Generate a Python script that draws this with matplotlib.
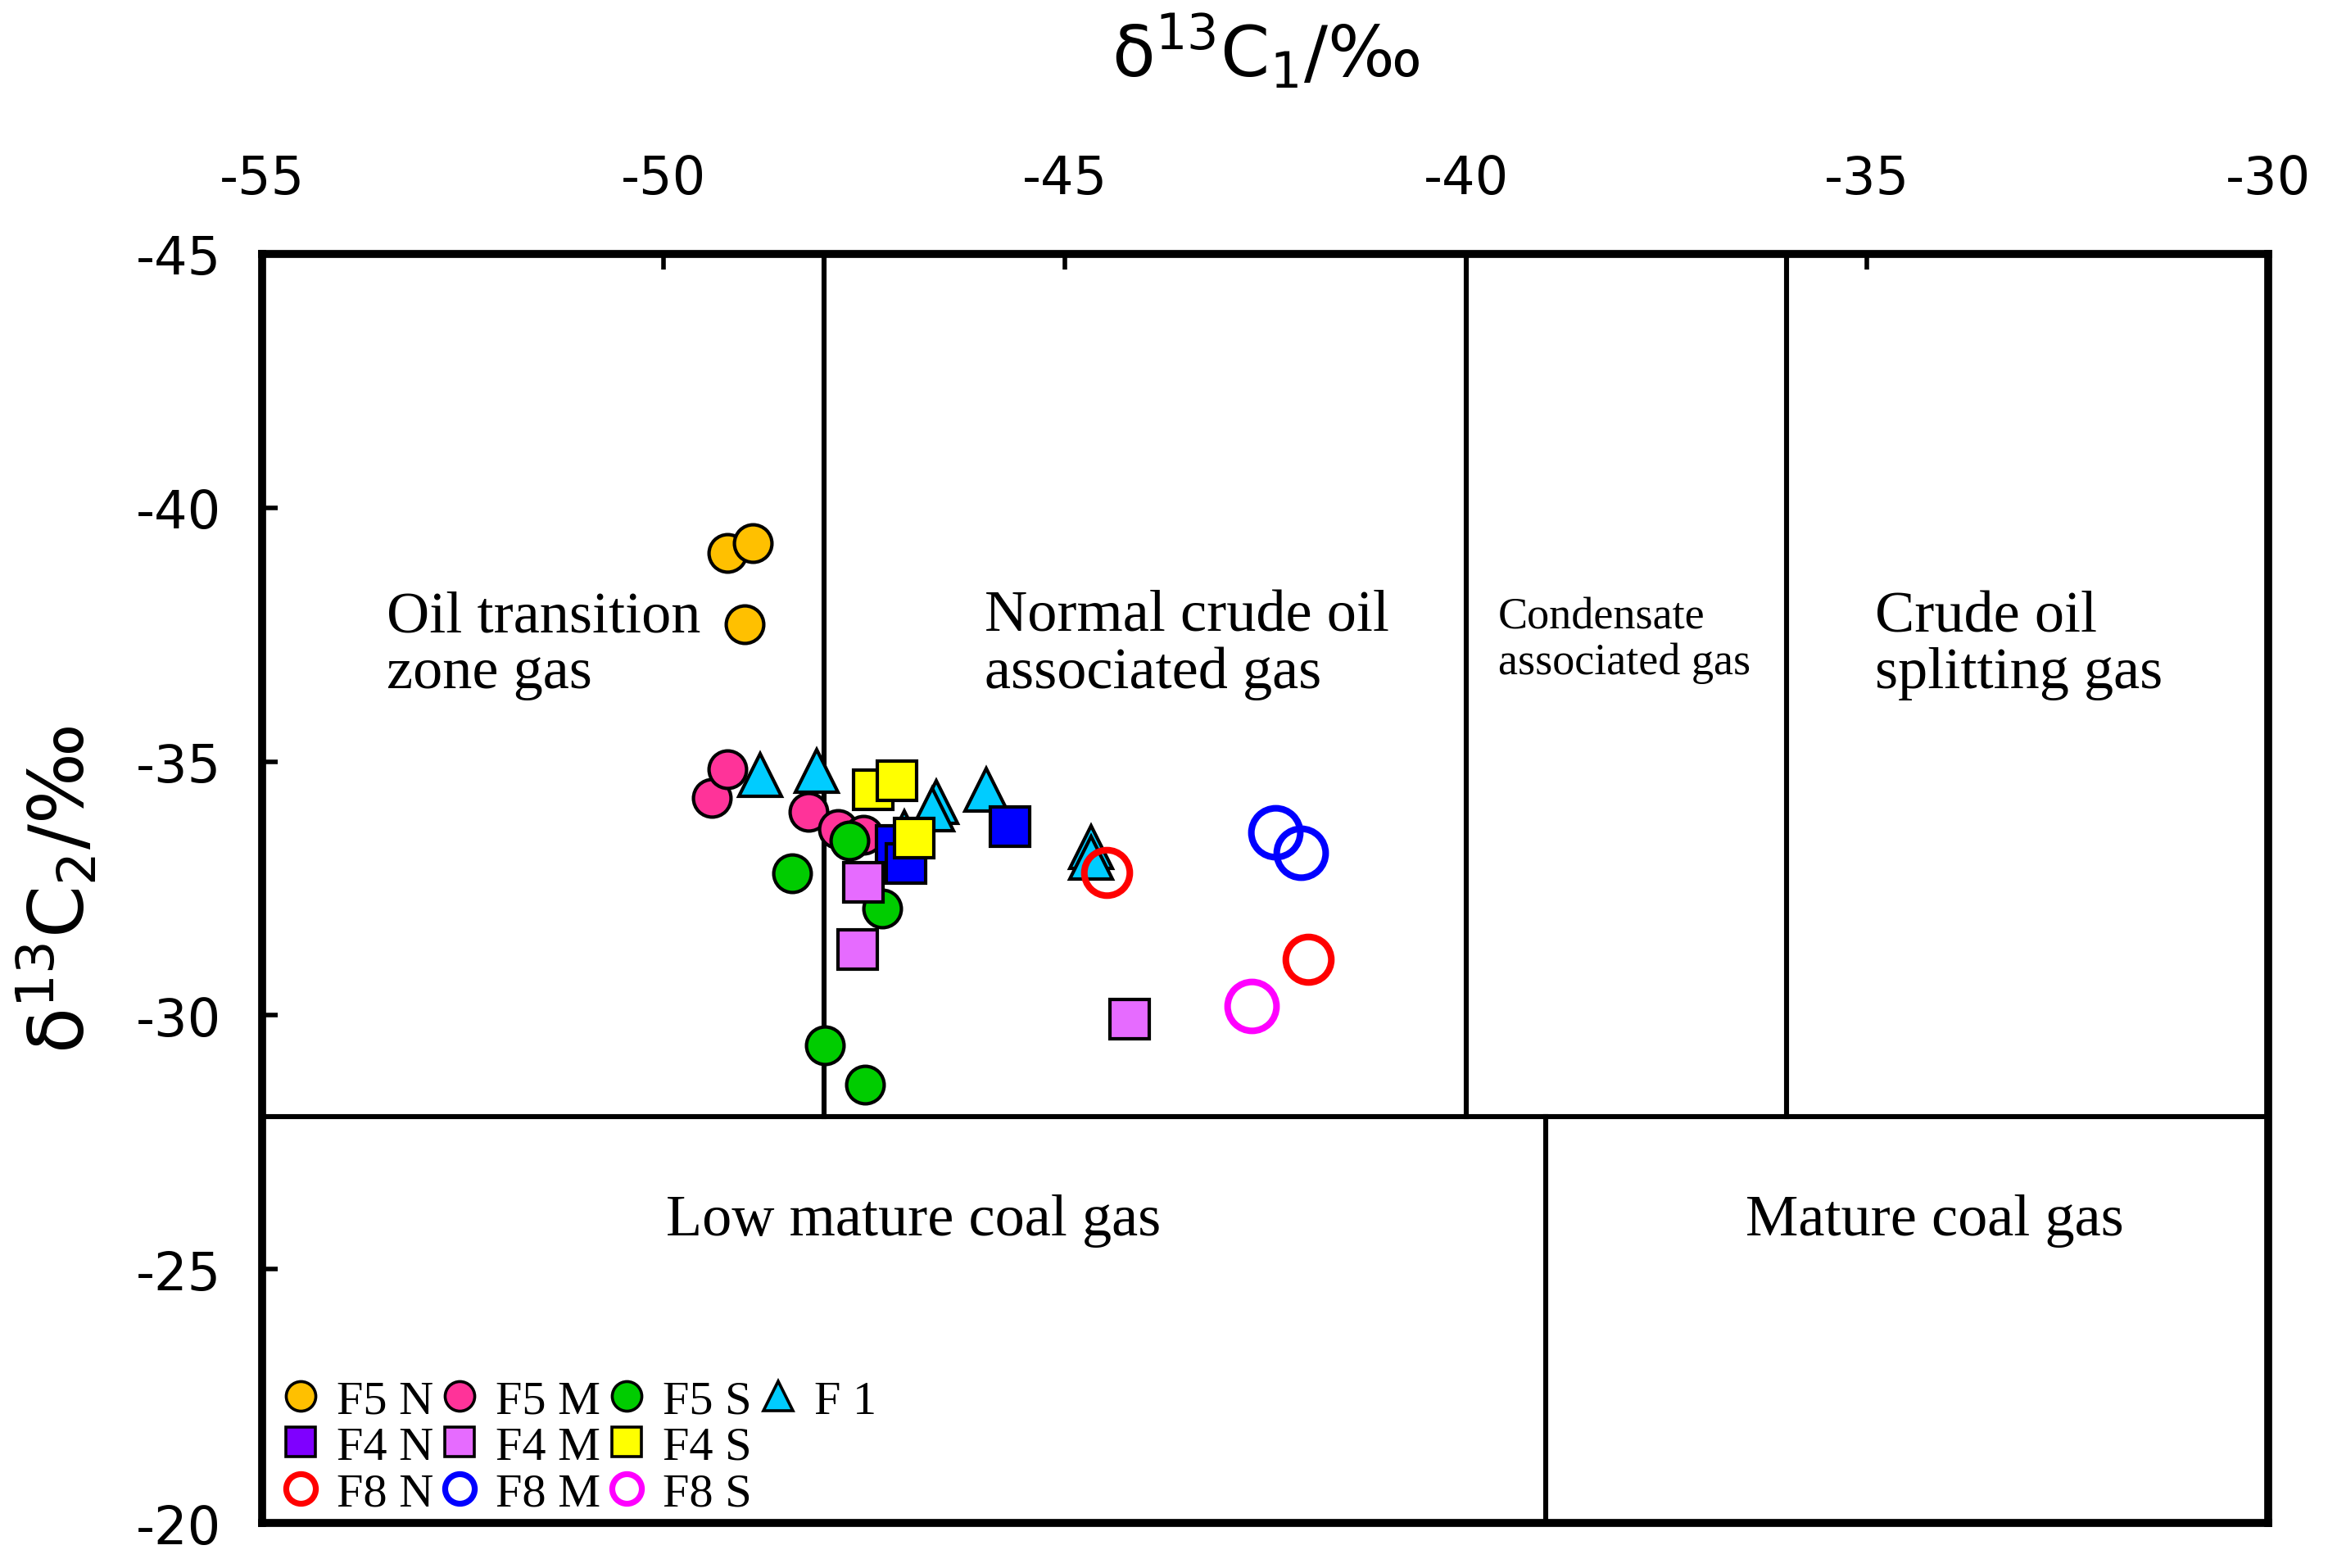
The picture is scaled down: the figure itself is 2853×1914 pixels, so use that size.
import numpy as np
import matplotlib
matplotlib.use("Agg")
import matplotlib.pyplot as plt
from matplotlib.lines import Line2D

plt.rcParams['axes.unicode_minus'] = False
plt.rcParams['mathtext.default'] = 'regular'

# data: delta13C1 (x) and delta13C2 (y)
f1_x = [-48.79, -48.09, -46.60, -46.65, -45.98, -47.00, -44.67, -44.67]
f1_y = [-34.74, -34.82, -34.21, -34.05, -34.44, -33.60, -33.32, -33.10]

f5n_x = [-49.20, -48.89, -48.99]
f5n_y = [-39.11, -39.31, -37.71]

f5m_x = [-49.40, -49.20, -48.19, -47.82, -47.51]
f5m_y = [-34.28, -34.85, -34.01, -33.67, -33.56]

f5s_x = [-48.40, -47.68, -47.27, -47.99, -47.49]
f5s_y = [-32.80, -33.45, -32.10, -29.41, -28.63]

f4n_x = [-45.68, -47.10, -46.98]
f4n_y = [-33.72, -33.35, -33.00]

f4s_x = [-47.39, -47.09, -46.88]
f4s_y = [-34.44, -34.63, -33.50]

f4m_x = [-47.51, -47.58, -44.19]
f4m_y = [-32.62, -31.30, -29.93]

f8n_x = [-44.48, -41.97]
f8n_y = [-32.82, -31.11]

f8m_x = [-42.37, -42.06]
f8m_y = [-33.61, -33.21]

f8s_x = [-42.67]
f8s_y = [-30.19]

# zone boundaries
upper_bounds = [-48, -40, -36]   # vertical lines above y=-28
lower_bound = -39                # vertical line below y=-28
y_split = -28

fig = plt.figure(figsize=(14.265, 9.575), dpi=200)
ax = fig.add_axes([0.1122, 0.0287, 0.8584, 0.8089])

ax.set_xlim(-55, -30)
ax.set_ylim(-20, -45)

# zone lines
for xv in upper_bounds:
    ax.plot([xv, xv], [-45, y_split], color='black', lw=2.2, zorder=1)
ax.axhline(y_split, color='black', lw=2.2, zorder=1)
ax.plot([lower_bound, lower_bound], [y_split, -20], color='black', lw=2.2, zorder=1)

serif = 'Liberation Serif'
ax.text(-53.45, -37.3, 'Oil transition\nzone gas', family=serif, fontsize=26,
        va='center', ha='left', linespacing=1.08)
ax.text(-46.0, -37.3, 'Normal crude oil\nassociated gas', family=serif, fontsize=26,
        va='center', ha='left', linespacing=1.08)
ax.text(-39.6, -37.4, 'Condensate\nassociated gas', family=serif, fontsize=19.5,
        va='center', ha='left', linespacing=1.12)
ax.text(-34.9, -37.3, 'Crude oil\nsplitting gas', family=serif, fontsize=26,
        va='center', ha='left', linespacing=1.08)
ax.text(-46.88, -25.96, 'Low mature coal gas', family=serif, fontsize=26,
        va='center', ha='center')
ax.text(-34.16, -25.96, 'Mature coal gas', family=serif, fontsize=26,
        va='center', ha='center')

ew = 1.5
ax.plot(f1_x, f1_y, '^', ms=19, mfc='#00CCFF', mec='black', mew=ew, ls='none', zorder=3)
ax.plot(f5n_x, f5n_y, 'o', ms=16.5, mfc='#FFC000', mec='black', mew=ew, ls='none', zorder=3)
ax.plot(f5m_x, f5m_y, 'o', ms=16.5, mfc='#FF3399', mec='black', mew=ew, ls='none', zorder=3)
ax.plot(f5s_x, f5s_y, 'o', ms=16.5, mfc='#00CC00', mec='black', mew=ew, ls='none', zorder=3)
ax.plot(f4n_x, f4n_y, 's', ms=17.5, mfc='#0000FF', mec='black', mew=ew, ls='none', zorder=3)
ax.plot(f4s_x, f4s_y, 's', ms=17.5, mfc='#FFFF00', mec='black', mew=ew, ls='none', zorder=3)
ax.plot(f4m_x, f4m_y, 's', ms=17.5, mfc='#E66BFF', mec='black', mew=ew, ls='none', zorder=3)
ax.plot(f8n_x, f8n_y, 'o', ms=20, mfc='none', mec='#FF0000', mew=2.9, ls='none', zorder=4)
ax.plot(f8m_x, f8m_y, 'o', ms=21.5, mfc='none', mec='#0000FF', mew=2.9, ls='none', zorder=4)
ax.plot(f8s_x, f8s_y, 'o', ms=21.5, mfc='none', mec='#FF00FF', mew=2.9, ls='none', zorder=4)

# legend, ordered by column so rows read across
def h(marker, fc, ec='black', mew=1.3):
    return Line2D([], [], marker=marker, ls='none', ms=13, mfc=fc, mec=ec, mew=mew)

blank = Line2D([], [], ls='none')
handles = [h('o', '#FFC000'), h('s', '#7F00FF'), h('o', 'none', '#FF0000', 2.6),
           h('o', '#FF3399'), h('s', '#E66BFF'), h('o', 'none', '#0000FF', 2.6),
           h('o', '#00CC00'), h('s', '#FFFF00'), h('o', 'none', '#FF00FF', 2.6),
           h('^', '#00CCFF'), blank, blank]
labels = ['F5 N', 'F4 N', 'F8 N',
          'F5 M', 'F4 M', 'F8 M',
          'F5 S', 'F4 S', 'F8 S',
          'F 1', '', '']
ax.legend(handles, labels, ncol=4, loc='lower left', bbox_to_anchor=(-0.007, -0.02),
          frameon=False, prop={'family': serif, 'size': 21},
          handlelength=0.8, handletextpad=0.35, columnspacing=0.15,
          labelspacing=0.06, borderaxespad=0.3)

# axes styling
for sp in ax.spines.values():
    sp.set_linewidth(3.5)
ax.xaxis.tick_top()
ax.xaxis.set_label_position('top')
ax.set_xticks(np.arange(-55, -29, 5))
ax.set_yticks(np.arange(-45, -19, 5))
ax.tick_params(axis='x', direction='in', length=7, width=2, labelsize=23, pad=22,
               top=True, bottom=False)
ax.tick_params(axis='y', direction='in', length=7, width=2, labelsize=23, pad=18,
               left=True, right=False)
ax.set_xlabel('δ$^{13}$C$_1$/‰', fontsize=31, labelpad=34)
ax.set_ylabel('δ$^{13}$C$_2$/‰', fontsize=33, labelpad=16)

fig.savefig('out.png', dpi=200)
